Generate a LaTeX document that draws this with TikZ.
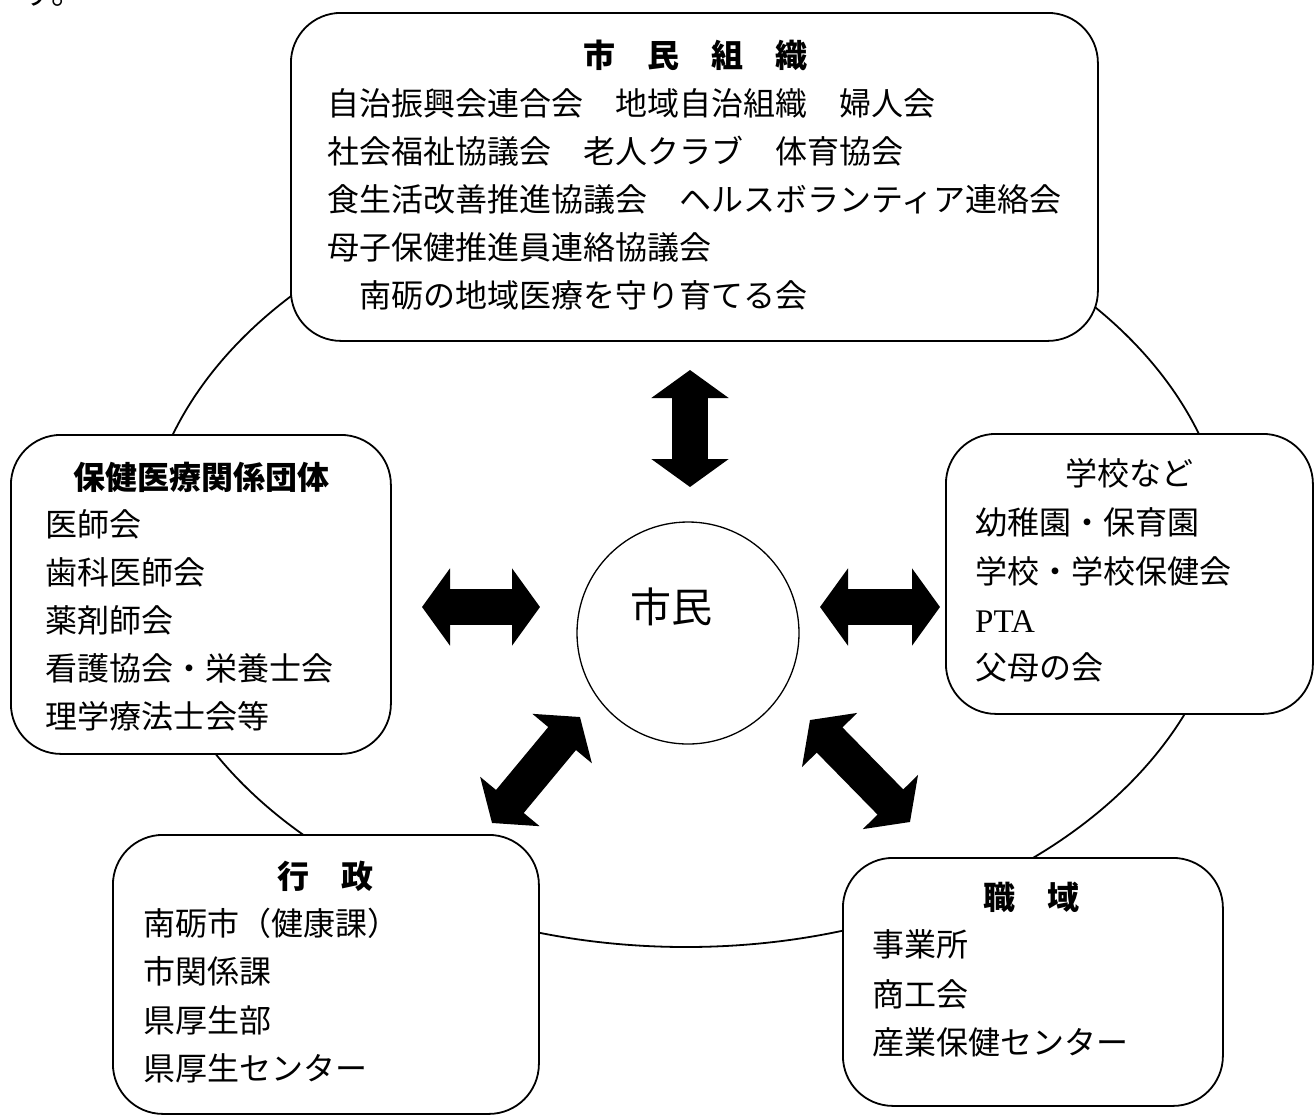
\documentclass[tikz,border=0pt]{standalone}
\usepackage{fontspec}
\setmainfont{Noto Sans CJK JP}
\newfontfamily\ptafont{Liberation Serif}
\usetikzlibrary{arrows.meta}
\begin{document}
\begin{tikzpicture}[x=1pt,y=-1pt,
  box/.style={draw, line width=1.8pt, rounded corners=50pt, fill=white, anchor=north west, inner sep=0pt},
  ttl/.style={anchor=base, font=\fontsize{32}{32}\selectfont\bfseries, inner sep=0pt},
  txt/.style={anchor=base west, font=\fontsize{32}{32}\selectfont, inner sep=0pt},
  blk/.style={line width=36pt, {Triangle[length=28pt,width=76pt]}-{Triangle[length=28pt,width=76pt]}}
]
\clip (0,0) rectangle (1316,1117);
\useasboundingbox (0,0) rectangle (1316,1117);
\node[txt] (frag) at (22,4) {す。};
\draw[line width=1.8pt] (686,561) ellipse [x radius=543, y radius=386];
% boxes
\node[box, minimum width=807pt, minimum height=328pt] (soshiki) at (290,12) {};
\node[box, minimum width=380pt, minimum height=319pt] (hoken) at (10,434) {};
\node[box, minimum width=367pt, minimum height=280pt] (gakko) at (945,433) {};
\node[box, minimum width=426pt, minimum height=279pt] (gyosei) at (112,834) {};
\node[box, minimum width=380pt, minimum height=248pt] (shokuiki) at (842,857) {};
\node[draw, circle, line width=1.3pt, minimum size=222pt, inner sep=0pt] (shimin) at (688,633) {};
\node[anchor=base, font=\fontsize{41}{41}\selectfont, inner sep=0pt] (shiminT) at (671,622) {市民};
% top box text
\node[ttl] (t0) at (695,67) {市　民　組　織};
\node[txt] (t1) at (327,115) {自治振興会連合会　地域自治組織　婦人会};
\node[txt] (t2) at (327,163) {社会福祉協議会　老人クラブ　体育協会};
\node[txt] (t3) at (327,211) {食生活改善推進協議会　ヘルスボランティア連絡会};
\node[txt] (t4) at (327,259) {母子保健推進員連絡協議会};
\node[txt] (t5) at (359,307) {南砺の地域医療を守り育てる会};
% hoken
\node[ttl] (h0) at (201,489) {保健医療関係団体};
\node[txt] (h1) at (45,536) {医師会};
\node[txt] (h2) at (45,584) {歯科医師会};
\node[txt] (h3) at (45,632) {薬剤師会};
\node[txt] (h4) at (45,680) {看護協会・栄養士会};
\node[txt] (h5) at (45,728) {理学療法士会等};
% gakko
\node[ttl, font=\fontsize{32}{32}\selectfont] (g0) at (1129,485) {学校など};
\node[txt] (g1) at (975,534) {幼稚園・保育園};
\node[txt] (g2) at (975,583) {学校・学校保健会};
\node[txt, font=\fontsize{33}{33}\ptafont] (g3) at (975,632) {PTA};
\node[txt] (g4) at (975,679) {父母の会};
% gyosei
\node[ttl] (v0) at (325,888) {行　政};
\node[txt] (v1) at (143,935) {南砺市（健康課）};
\node[txt] (v2) at (143,983) {市関係課};
\node[txt] (v3) at (143,1032) {県厚生部};
\node[txt] (v4) at (143,1080) {県厚生センター};
% shokuiki
\node[ttl] (s0) at (1031,909) {職　域};
\node[txt] (s1) at (872,956) {事業所};
\node[txt] (s2) at (872,1006) {商工会};
\node[txt] (s3) at (872,1054) {産業保健センター};
% block arrows
\coordinate (aT1) at (690,370); \coordinate (aT2) at (690,487);
\coordinate (aL1) at (422,607); \coordinate (aL2) at (540,607);
\coordinate (aR1) at (820,607); \coordinate (aR2) at (940,607);
\coordinate (aLL1) at (492,823); \coordinate (aLL2) at (580,717);
\coordinate (aLR1) at (810,720); \coordinate (aLR2) at (910,822);
\draw[blk] (aT1) -- (aT2);
\draw[blk] (aL1) -- (aL2);
\draw[blk] (aR1) -- (aR2);
\draw[blk] (aLL1) -- (aLL2);
\draw[blk] (aLR1) -- (aLR2);
\end{tikzpicture}
\end{document}
